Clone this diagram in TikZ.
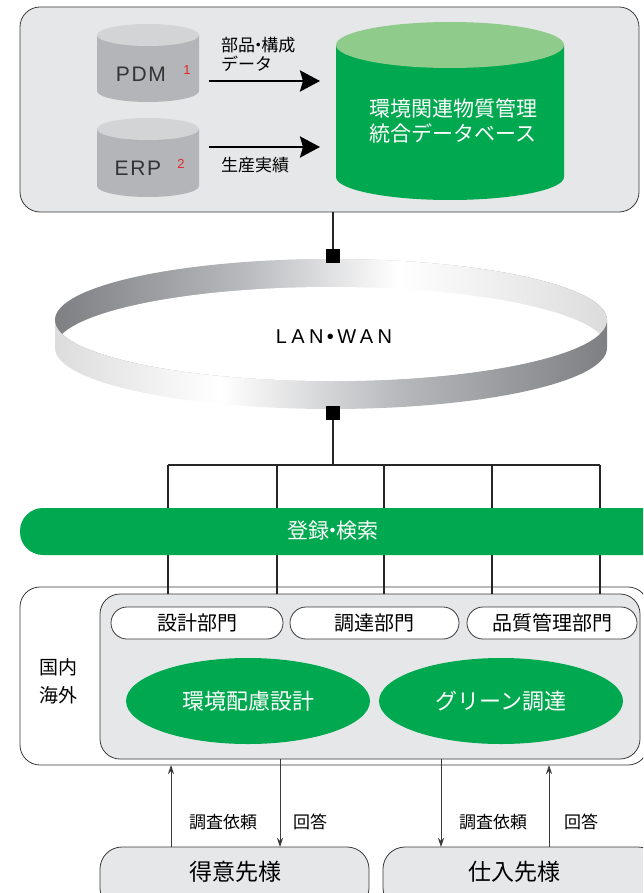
\documentclass[tikz,border=0pt]{standalone}
\usepackage{fontspec}
\usetikzlibrary{arrows.meta}
\setmainfont{Noto Sans CJK JP}
\newfontfamily\latin[LetterSpace=8]{Liberation Sans}
\newfontfamily\lanfont[LetterSpace=22]{Liberation Sans}
\newcommand{\nd}{\hspace{-0.32em}・\hspace{-0.32em}}
\definecolor{grn}{HTML}{00A94F}
\definecolor{lgrn}{HTML}{8FCC8C}
\definecolor{pnl}{HTML}{E6E7E8}
\definecolor{cylbody}{HTML}{B4B5B8}
\definecolor{cyltop}{HTML}{D3D4D6}
\definecolor{edge}{HTML}{3A3A3A}
\definecolor{ringdk}{HTML}{7E7F83}
\definecolor{ringmd}{HTML}{B8B9BC}
\definecolor{ringlt}{HTML}{DCDCDD}
\definecolor{redn}{HTML}{E2262B}
\pgfdeclarehorizontalshading{backband}{100bp}{color(0bp)=(ringdk); color(25bp)=(ringdk); color(42bp)=(ringmd); color(56bp)=(white); color(75bp)=(ringlt); color(100bp)=(ringlt)}
\pgfdeclarehorizontalshading{frontband}{100bp}{color(0bp)=(ringlt); color(25bp)=(ringlt); color(40bp)=(white); color(56bp)=(ringmd); color(75bp)=(ringdk); color(100bp)=(ringdk)}
\tikzset{
  panel/.style={fill=pnl, draw=edge, line width=0.8pt, rounded corners=20pt},
  whitepanel/.style={fill=white, draw=edge, line width=0.8pt, rounded corners=20pt},
  pill/.style={fill=white, draw=edge, line width=0.8pt, rounded corners=16pt, minimum height=32pt, inner sep=0pt, font=\fontsize{20}{24}\selectfont},
  custbox/.style={fill=pnl, draw=edge, line width=0.8pt, rounded corners=22pt},
  bigarrow/.style={line width=2.8pt, -{Stealth[length=20pt,width=21pt,inset=3pt]}},
  smallarrow/.style={line width=0.9pt, draw=edge, -{Stealth[length=9pt,width=6pt]}},
  treeline/.style={line width=1.8pt, draw=black!85},
  lbl/.style={inner sep=0pt, font=\fontsize{17}{19}\selectfont},
  wlbl/.style={inner sep=0pt, text=white},
  cyllabel/.style={inner sep=0pt, text=black!80, font=\latin\fontsize{21}{22}\selectfont},
  rednum/.style={inner sep=0pt, text=redn, font=\latin\fontsize{13}{13}\selectfont},
}
\begin{document}
\begin{tikzpicture}[x=1pt,y=-1pt]
\useasboundingbox (0,0) rectangle (643,893);
\clip (0,0) rectangle (643,893);

% ---------- top panel ----------
\draw[panel] (20,7) rectangle (639,212);

% PDM cylinder
\fill[cylbody] (97,35) -- (97,91) arc[start angle=180,end angle=360,x radius=51pt,y radius=11pt] -- (199,35) -- cycle;
\fill[cyltop] (148,35) ellipse [x radius=51pt, y radius=11pt];
\node[cyllabel] (pdm) at (141,74) {PDM};
\node[rednum] (pdmn) at (187,70) {1};

% ERP cylinder
\fill[cylbody] (97,129) -- (97,186) arc[start angle=180,end angle=360,x radius=51pt,y radius=11pt] -- (199,129) -- cycle;
\fill[cyltop] (148,129) ellipse [x radius=51pt, y radius=11pt];
\node[cyllabel] (erp) at (138,168) {ERP};
\node[rednum] (erpn) at (181,164) {2};

% green database cylinder
\fill[grn] (336,45) -- (336,177) arc[start angle=180,end angle=360,x radius=114pt,y radius=23pt] -- (564,45) -- cycle;
\fill[lgrn] (450,45) ellipse [x radius=114pt, y radius=23pt];
\node[wlbl, align=center, font=\fontsize{21}{25}\selectfont] (db) at (453,121) {環境関連物質管理\\統合データベース};

% arrows into the database
\coordinate (a1s) at (209,81);
\coordinate (a1e) at (320,81);
\coordinate (a2s) at (209,147);
\coordinate (a2e) at (320,147);
\draw[bigarrow] (a1s) -- (a1e);
\draw[bigarrow] (a2s) -- (a2e);
\node[lbl, anchor=west, align=left] (l1) at (221,54) {部品\nd 構成\\データ};
\node[lbl, anchor=west] (l2) at (221,165) {生産実績};

% ---------- LAN / WAN ring ----------
\shade[shading=frontband] (55,320) -- (55,348) arc[start angle=180,end angle=360,x radius=276pt,y radius=61pt] -- (607,348) -- (607,320) arc[start angle=0,end angle=180,x radius=276pt,y radius=61pt] -- cycle;
\shade[shading=backband] (331,320) ellipse [x radius=276pt, y radius=61pt];
\begin{scope}
  \clip (331,320) ellipse [x radius=276pt, y radius=61pt];
  \fill[white] (331,348) ellipse [x radius=276pt, y radius=61pt];
\end{scope}
\node[inner sep=0pt, font=\lanfont\fontsize{20}{22}\selectfont] (lan) at (334,337) {LAN\,•\,WAN};

% connectors to the ring
\coordinate (topbot) at (333,212);
\node[fill=black, minimum size=14pt, inner sep=0pt] (sq1) at (333,256) {};
\node[fill=black, minimum size=14pt, inner sep=0pt] (sq2) at (333,413) {};
\draw[treeline] (topbot) -- (sq1.north);

% ---------- lower panels ----------
\draw[whitepanel] (20,587) rectangle (648,765);
\draw[panel] (100,594) rectangle (640,759);

% tree
\coordinate (hub) at (333,465);
\coordinate (h1) at (168,465);
\coordinate (h5) at (600,465);
\draw[treeline] (sq2.south) -- (hub);
\draw[treeline] (h1) -- (h5);
\foreach \xx in {168,277,384,492,600} {
  \draw[treeline] (\xx,465) -- (\xx,594);
}

% green bar
\fill[grn, rounded corners=23pt] (20,508) rectangle (668,555);
\node[wlbl, font=\fontsize{21}{24}\selectfont] (reg) at (333,531) {登録\nd 検索};

% department pills
\node[pill, minimum width=172pt] (d1) at (197,623) {設計部門};
\node[pill, minimum width=169pt] (d2) at (374.5,623) {調達部門};
\node[pill, minimum width=170pt] (d3) at (552,623) {品質管理部門};

\node[inner sep=0pt, align=center, font=\fontsize{19}{28}\selectfont] (dom) at (58,681) {国内\\海外};

% green ellipses
\fill[grn] (248,701) ellipse [x radius=122pt, y radius=43pt];
\fill[grn] (501,701) ellipse [x radius=122pt, y radius=43pt];
\node[wlbl, font=\fontsize{22}{24}\selectfont] (e1) at (248,701) {環境配慮設計};
\node[wlbl, font=\fontsize{22}{24}\selectfont] (e2) at (501,701) {グリーン調達};

% customer / supplier boxes
\draw[custbox] (100,847) rectangle (369,910);
\draw[custbox] (383,847) rectangle (660,910);
\node[inner sep=0pt, font=\fontsize{23}{24}\selectfont] (cust) at (235,872) {得意先様};
\node[inner sep=0pt, font=\fontsize{23}{24}\selectfont] (supp) at (514,872) {仕入先様};

% request / answer arrows
\draw[smallarrow] (171,847) -- (171,765);
\draw[smallarrow] (280,759) -- (280,847);
\draw[smallarrow] (441,759) -- (441,847);
\draw[smallarrow] (549,847) -- (549,765);
\node[lbl] (q1) at (223,822) {調査依頼};
\node[lbl] (r1) at (310,822) {回答};
\node[lbl] (q2) at (493,822) {調査依頼};
\node[lbl] (r2) at (581,822) {回答};
\end{tikzpicture}
\end{document}
